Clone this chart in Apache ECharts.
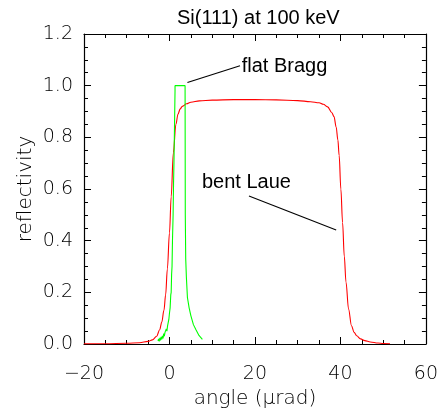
<!DOCTYPE html>
<html>
<head>
<meta charset="utf-8">
<script src="https://cdn.jsdelivr.net/npm/echarts@6/dist/echarts.min.js"></script>
<style>html,body{margin:0;padding:0;background:#fff}#c{width:441px;height:414px}</style>
</head>
<body>
<div id="c"></div>
<script>
// ---- data ----
const titleText = "Si(111) at 100 keV";
const xAxisName = "angle (\u03bcrad)";
const yAxisName = "reflectivity";
const xTicks = [-20, 0, 20, 40, 60];
const xMinorStep = 5;
const yTicks = [0.0, 0.2, 0.4, 0.6, 0.8, 1.0, 1.2];
const yMinorStep = 0.05;

// bent Laue (red)
const laueX = [-20, -15, -10, -7, -5, -4, -3, -2.3, -1.8, -1.3, -0.9, -0.5, 0, 0.4, 0.9, 1.5, 2.0, 2.5, 3, 4, 5, 7, 10, 15, 20, 25, 30, 33, 35, 36, 37, 38, 38.5, 39, 39.4, 39.7, 40.1, 40.5, 40.9, 41.3, 41.9, 42.6, 43.2, 43.8, 44.7, 45.7, 47, 48.8, 50, 51.6];
const laueY = [0.0005, 0.001, 0.003, 0.005, 0.01, 0.016, 0.03, 0.055, 0.085, 0.13, 0.19, 0.29, 0.43, 0.57, 0.74, 0.85, 0.89, 0.91, 0.92, 0.93, 0.936, 0.941, 0.944, 0.946, 0.946, 0.945, 0.942, 0.938, 0.934, 0.928, 0.918, 0.895, 0.88, 0.84, 0.79, 0.73, 0.6, 0.47, 0.34, 0.24, 0.135, 0.07, 0.045, 0.032, 0.02, 0.013, 0.008, 0.004, 0.002, 0.001];

// flat Bragg (green)
const braggX = [-2.7, -2.55, -2.4, -2.25, -2.1, -1.95, -1.8, -1.65, -1.5, -1.35, -1.2, -1.05, -0.9, -0.75, -0.6, -0.45, -0.3, -0.15, 0, 0.15, 0.3, 0.4, 0.5, 0.6, 0.7, 0.85, 0.95, 1.05, 1.3, 1.3, 3.65, 3.7, 3.8, 3.95, 4.2, 4.6, 5.0, 5.6, 6.2, 6.9, 7.7];
const braggY = [0.012, 0.02, 0.01, 0.024, 0.014, 0.028, 0.018, 0.032, 0.022, 0.04, 0.03, 0.045, 0.04, 0.058, 0.05, 0.07, 0.075, 0.095, 0.12, 0.14, 0.19, 0.2, 0.27, 0.3, 0.4, 0.5, 0.62, 0.7, 0.98, 1.0, 1.0, 0.5, 0.33, 0.26, 0.18, 0.14, 0.11, 0.075, 0.055, 0.033, 0.018];

// annotations (data coordinates)
const braggLabel = "flat Bragg";
const braggLabelAt = [16.9, 1.073];
const braggPointer = [[4.2, 1.012], [16.5, 1.077]];
const laueLabel = "bent Laue";
const laueLabelAt = [7.6, 0.625];
const lauePointer = [[18.6, 0.573], [39.0, 0.441]];

// ---- chart ----
const zip = (xs, ys) => xs.map((x, i) => [x, ys[i]]);
const tickFont = {fontFamily: "DejaVu Sans", fontSize: 19, color: "#000", fontWeight: 200};
const nameFont = {fontFamily: "DejaVu Sans", fontSize: 20, color: "#000", fontWeight: 200};
const fmtX = v => (v < 0 ? "\u2212" + Math.abs(v) : String(v));
const fmtY = v => v.toFixed(1);

function axis(ticks, step, pos, opts) {
  const major = opts.major;
  return {
    type: "value", position: pos, min: ticks[0], max: ticks[ticks.length - 1],
    interval: major ? ticks[1] - ticks[0] : step,
    name: opts.name || "", nameLocation: "middle", nameGap: opts.nameGap || 0,
    nameMoveOverlap: false,
    nameTextStyle: nameFont,
    axisLine: {show: major, onZero: false, lineStyle: {color: "#000", width: 1.2}},
    axisTick: {show: true, inside: true, length: major ? 7 : 4, lineStyle: {color: "#000", width: 1}},
    axisLabel: Object.assign({show: !!opts.labels, margin: opts.margin || 8, formatter: opts.fmt}, tickFont),
    splitLine: {show: false}
  };
}

const chart = echarts.init(document.getElementById("c"), null, {renderer: "canvas"});
chart.setOption({
  animation: false,
  backgroundColor: "#fff",
  title: {text: titleText, left: 172, top: 3,
    textStyle: {fontFamily: "Liberation Sans", fontSize: 20, fontWeight: "normal", color: "#000"}},
  grid: {left: 84, right: 13, top: 34, bottom: 69, containLabel: false},
  xAxis: [
    axis(xTicks, xMinorStep, "bottom", {major: true, labels: true, fmt: fmtX, margin: 21, name: xAxisName, nameGap: 45}),
    axis(xTicks, xMinorStep, "top", {major: true}),
    axis(xTicks, xMinorStep, "bottom", {major: false}),
    axis(xTicks, xMinorStep, "top", {major: false})
  ],
  yAxis: [
    axis(yTicks, yMinorStep, "left", {major: true, labels: true, fmt: fmtY, margin: 11, name: yAxisName, nameGap: 48}),
    axis(yTicks, yMinorStep, "right", {major: true}),
    axis(yTicks, yMinorStep, "left", {major: false}),
    axis(yTicks, yMinorStep, "right", {major: false})
  ],
  series: [
    {
      type: "line", name: "bent Laue", data: zip(laueX, laueY), showSymbol: false,
      smooth: 0.35, smoothMonotone: "x",
      lineStyle: {color: "#ff0000", width: 1.1}, itemStyle: {color: "#ff0000"},
      markLine: {silent: true, symbol: "none", label: {show: false},
        lineStyle: {color: "#000", width: 1.1, type: "solid"},
        data: [[{coord: lauePointer[0]}, {coord: lauePointer[1]}]]},
      markPoint: {silent: true, symbol: "circle", symbolSize: 0,
        label: {show: true, position: "right", distance: 0, formatter: "{b}",
          fontFamily: "Liberation Sans", fontSize: 20, color: "#000"},
        data: [{name: laueLabel, coord: laueLabelAt}]}
    },
    {
      type: "line", name: "flat Bragg", data: zip(braggX, braggY), showSymbol: false,
      lineStyle: {color: "#00ff00", width: 1.1}, itemStyle: {color: "#00ff00"},
      markLine: {silent: true, symbol: "none", label: {show: false},
        lineStyle: {color: "#000", width: 1.1, type: "solid"},
        data: [[{coord: braggPointer[0]}, {coord: braggPointer[1]}]]},
      markPoint: {silent: true, symbol: "circle", symbolSize: 0,
        label: {show: true, position: "right", distance: 0, formatter: "{b}",
          fontFamily: "Liberation Sans", fontSize: 20, color: "#000"},
        data: [{name: braggLabel, coord: braggLabelAt}]}
    }
  ]
});
</script>
</body>
</html>
